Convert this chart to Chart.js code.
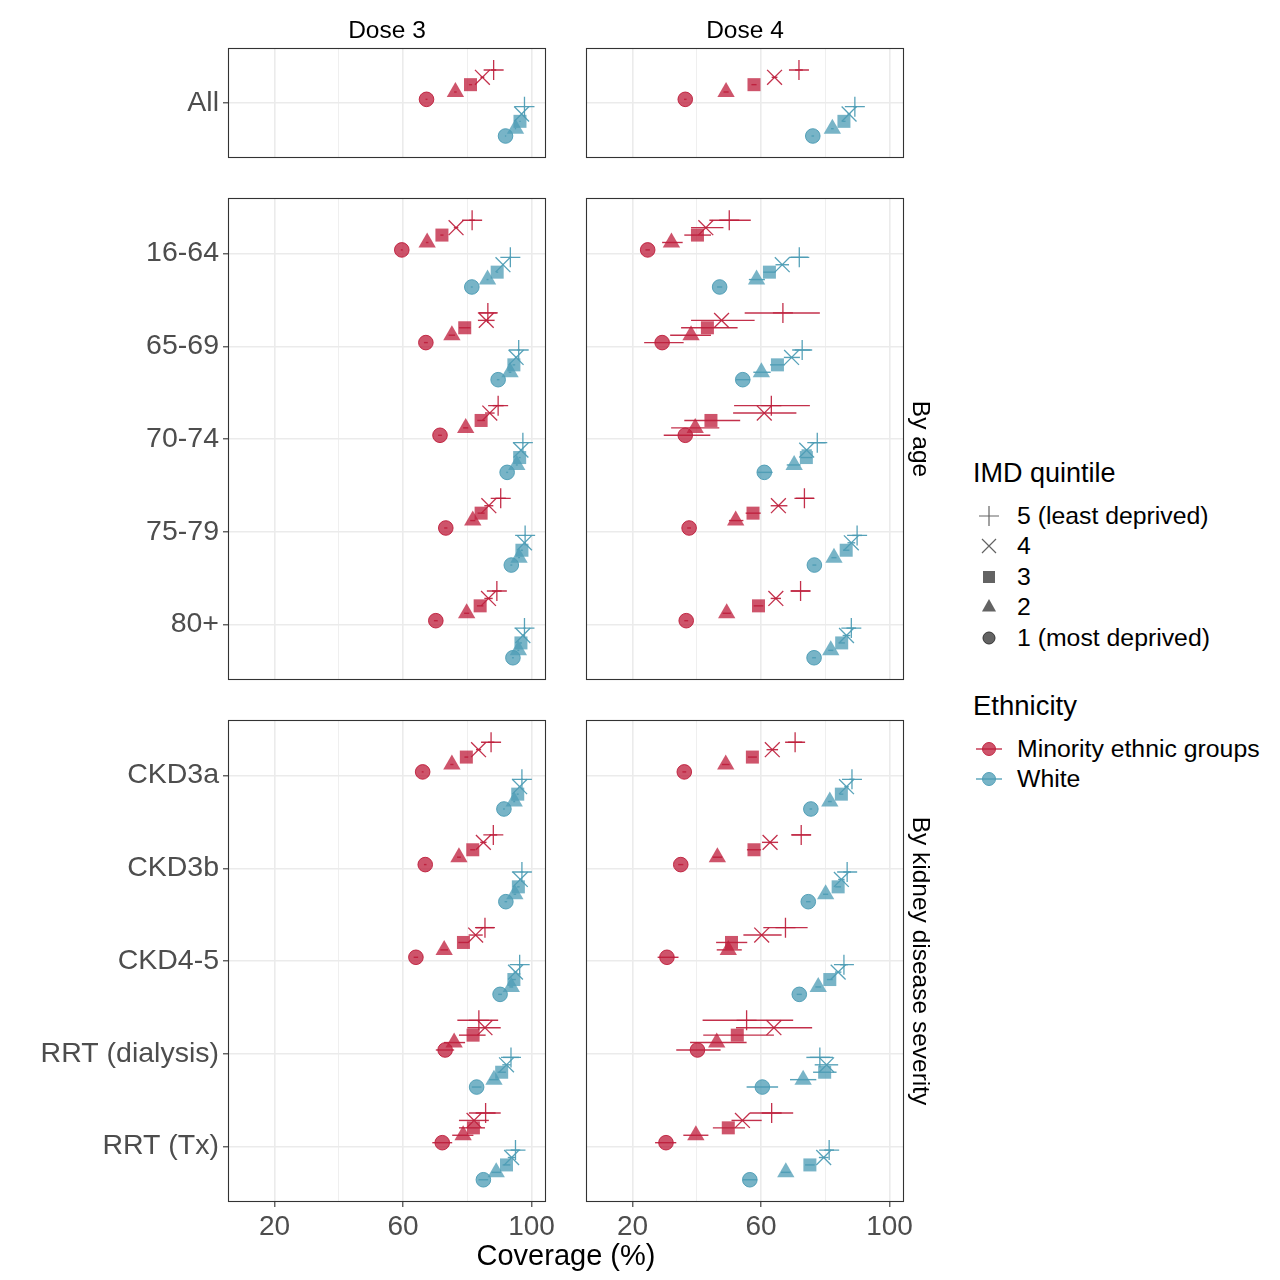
<!DOCTYPE html>
<html>
<head>
<meta charset="utf-8">
<script src="https://cdn.jsdelivr.net/npm/chart.js@4.4.1/dist/chart.umd.min.js"></script>
<style>
  body { margin: 0; background: #fff; font-family: "Liberation Sans", Arial, sans-serif; }
  #page { position: relative; width: 1280px; height: 1280px; overflow: hidden; }
  .box { position: absolute; }
  .txt { position: absolute; white-space: nowrap; line-height: 1; color: #000; }
</style>
</head>
<body>
<div id="page"></div>
<script>
var FONT = '"Liberation Sans", Arial, sans-serif';

// categories of each facet row (top to bottom)
var rowGroups = [
  ['All'],
  ['16-64', '65-69', '70-74', '75-79', '80+'],
  ['CKD3a', 'CKD3b', 'CKD4-5', 'RRT (dialysis)', 'RRT (Tx)']
];
var rowStrips = ['', 'By age', 'By kidney disease severity'];
var doses = ['Dose 3', 'Dose 4'];
var ethnicities = ['Minority ethnic groups', 'White'];
var quintiles = ['1 (most deprived)', '2', '3', '4', '5 (least deprived)'];
var xTicks = [20, 40, 60, 80, 100];
var xLabels = [20, 60, 100];

// coverage (%) per row: All,16-64,65-69,70-74,75-79,80+,CKD3a,CKD3b,CKD4-5,RRT (dialysis),RRT (Tx)
// each row = quintile 1..5
var d3MinVal = [[67.3,76.3,81.0,84.7,88.2],[59.6,67.5,72.1,76.5,81.5],[67.1,75.2,79.2,85.9,86.4],[71.5,79.5,84.3,87.0,89.6],[73.3,81.7,84.3,86.7,90.4],[70.2,79.8,84.0,86.6,89.2],[66.1,75.2,79.7,83.5,87.4],[66.9,77.4,81.7,85.0,88.1],[64.0,72.8,78.8,82.6,85.5],[73.1,75.9,81.8,85.5,83.6],[72.2,78.7,81.9,82.1,85.7]];
var d3MinLo  = [[67.0,75.9,80.5,84.1,87.4],[59.3,67.1,71.6,75.8,80.6],[66.5,74.2,77.4,83.3,83.6],[70.9,78.7,83.1,85.5,87.9],[72.8,80.9,83.2,85.3,88.8],[69.6,79.0,83.0,85.3,87.7],[65.8,74.7,79.1,82.7,86.4],[66.5,76.8,80.9,84.0,86.9],[63.3,71.6,77.2,80.4,82.7],[70.2,72.7,77.4,80.0,76.9],[69.1,75.3,77.4,77.4,80.5]];
var d3MinHi  = [[67.6,76.7,81.5,85.3,89.0],[59.9,67.9,72.6,77.2,82.4],[67.7,76.2,81.0,88.5,89.2],[72.1,80.3,85.5,88.5,91.3],[73.8,82.5,85.4,88.1,92.0],[70.8,80.6,85.0,87.9,90.7],[66.4,75.7,80.3,84.3,88.4],[67.3,78.0,82.5,86.0,89.3],[64.7,74.0,80.4,84.8,88.3],[75.9,79.3,85.7,90.4,89.6],[75.3,81.9,85.5,86.7,90.4]];

var d3WhiVal = [[91.9,95.0,96.4,96.9,97.8],[81.4,86.3,89.3,91.1,93.4],[89.6,93.3,94.5,95.2,96.0],[92.4,95.4,96.3,96.7,97.3],[93.7,96.1,97.0,97.8,98.0],[94.2,95.9,96.7,97.3,97.8],[91.4,94.6,95.7,96.3,97.0],[92.0,94.8,95.9,96.5,97.0],[90.2,93.7,94.5,95.0,96.3],[82.9,88.3,90.7,92.2,93.6],[85.0,89.0,92.2,93.8,95.0]];
var d3WhiLo  = [[91.7,94.8,96.2,96.7,97.6],[81.1,86.0,89.0,90.8,93.1],[89.2,92.9,94.1,94.8,95.6],[92.1,95.1,96.0,96.4,97.0],[93.4,95.8,96.7,97.5,97.7],[93.9,95.6,96.4,97.0,97.5],[91.1,94.3,95.4,96.0,96.7],[91.6,94.4,95.5,96.1,96.6],[89.6,93.1,93.9,94.4,95.6],[81.4,86.8,89.4,90.9,91.1],[83.5,87.5,91.0,92.6,93.5]];
var d3WhiHi  = [[92.1,95.2,96.6,97.1,98.0],[81.7,86.6,89.6,91.4,93.7],[90.0,93.7,94.9,95.6,96.4],[92.7,95.7,96.6,97.0,97.6],[94.0,96.4,97.3,98.1,98.3],[94.5,96.2,97.0,97.6,98.1],[91.7,94.9,96.0,96.6,97.3],[92.4,95.2,96.3,96.9,97.4],[90.8,94.3,95.1,95.6,97.0],[84.4,89.8,92.0,93.5,96.1],[86.5,90.5,93.4,95.0,96.5]];

var d4MinVal = [[36.4,49.1,57.8,64.2,71.8],[24.7,32.1,40.2,42.8,50.1],[29.2,38.2,43.3,47.7,66.8],[36.4,39.5,44.4,61.0,63.2],[37.6,52.1,57.5,65.4,73.5],[36.7,49.3,59.2,64.6,72.3],[36.1,49.0,57.3,63.5,70.6],[35.0,46.4,57.8,62.8,72.5],[30.7,49.8,50.8,60.2,67.6],[40.2,46.2,52.6,64.0,55.5],[30.4,39.7,49.8,54.2,63.3]];
var d4MinLo  = [[36.0,48.3,57.0,63.3,70.6],[24.0,29.2,36.1,38.2,43.9],[23.6,31.7,35.1,38.2,54.9],[29.7,32.0,36.1,51.3,51.6],[37.0,50.0,55.2,63.0,70.8],[36.1,48.0,57.7,63.0,69.3],[35.5,47.8,55.9,61.7,68.4],[34.2,44.9,55.6,60.3,69.5],[27.8,46.2,46.0,54.5,60.7],[33.6,37.9,42.0,52.2,41.8],[27.0,35.8,45.0,50.8,56.5]];
var d4MinHi  = [[36.8,49.9,58.6,65.1,73.0],[25.4,35.6,44.4,48.3,56.8],[35.9,44.4,52.7,58.0,78.3],[44.2,47.0,53.5,71.0,75.2],[38.2,54.5,59.9,68.2,76.5],[37.3,50.6,60.7,66.2,75.3],[36.7,50.2,58.7,65.3,72.8],[35.8,47.9,60.0,65.3,75.5],[34.3,54.0,55.7,66.4,74.5],[47.4,55.5,64.0,75.9,70.0],[33.6,43.6,55.0,60.2,70.0]];

var d4WhiVal = [[76.1,82.2,85.8,87.4,89.2],[47.1,58.6,62.6,66.6,71.9],[54.3,60.1,65.1,69.5,72.8],[61.0,70.3,74.1,74.2,77.5],[76.6,82.7,86.5,88.1,89.9],[76.5,81.7,85.1,86.6,88.1],[75.5,81.4,85.0,86.6,88.3],[74.7,80.1,84.0,85.0,86.8],[71.9,77.8,81.4,84.0,85.8],[60.4,73.1,79.8,80.4,78.3],[56.5,67.7,75.2,79.5,81.2]];
var d4WhiLo  = [[75.7,81.8,85.3,86.9,88.6],[46.3,56.2,60.7,64.5,69.2],[52.1,57.6,62.8,67.1,70.5],[58.9,68.0,72.3,72.6,75.4],[76.0,81.9,85.5,86.9,88.4],[75.9,80.9,84.1,85.4,86.6],[75.1,80.8,84.4,85.9,87.5],[74.0,79.3,83.1,84.0,85.6],[71.1,76.9,80.5,83.0,84.6],[55.5,69.0,76.2,76.7,74.1],[54.3,66.2,73.7,78.0,79.7]];
var d4WhiHi  = [[76.5,82.6,86.3,87.9,89.8],[47.9,61.2,64.5,68.7,74.6],[56.6,63.0,67.4,72.1,75.4],[63.6,72.3,76.0,75.8,80.1],[77.2,83.5,87.5,89.3,91.4],[77.1,82.5,86.1,87.8,89.6],[75.9,82.0,85.6,87.3,89.1],[75.4,80.9,84.9,86.0,88.0],[72.7,78.7,82.3,85.0,87.0],[65.3,77.2,83.5,84.0,82.4],[58.8,69.2,76.7,81.0,82.7]];

var series = [
  [{val: d3MinVal, lo: d3MinLo, hi: d3MinHi}, {val: d3WhiVal, lo: d3WhiLo, hi: d3WhiHi}],
  [{val: d4MinVal, lo: d4MinLo, hi: d4MinHi}, {val: d4WhiVal, lo: d4WhiLo, hi: d4WhiHi}]
];

// look
var lineCol = ['rgba(190,30,60,0.92)', 'rgba(78,157,181,0.95)'];
var fillCol = ['rgba(190,30,60,0.76)', 'rgba(78,157,181,0.76)'];
var shapes = ['circle', 'triangle', 'rect', 'crossRot', 'cross'];
var radii = [7.3, 10, 9.2, 10.5, 10];

var panelTop = [48, 198, 720];
var panelBottom = [158, 680, 1202];
var colLeft = [228, 586];
var colRight = [546, 904];

var page = document.getElementById('page');

function addText(str, cx, cy, size, opts) {
  opts = opts || {};
  var el = document.createElement('div');
  el.className = 'txt';
  el.textContent = str;
  el.style.fontSize = size + 'px';
  el.style.left = cx + 'px';
  el.style.top = cy + 'px';
  if (opts.color) el.style.color = opts.color;
  var tr = opts.left ? 'translate(0,-50%)' : 'translate(-50%,-50%)';
  if (opts.rot) tr += ' rotate(' + opts.rot + 'deg)';
  el.style.transform = tr;
  page.appendChild(el);
  return el;
}

// horizontal CI lines
var errorBars = {
  id: 'errorBars',
  afterDatasetsDraw: function(chart) {
    var ctx = chart.ctx, ca = chart.chartArea;
    var xs = chart.scales.x, ys = chart.scales.y;
    ctx.save();
    ctx.beginPath();
    ctx.rect(ca.left, ca.top, ca.right - ca.left, ca.bottom - ca.top);
    ctx.clip();
    chart.data.datasets.forEach(function(ds) {
      ctx.strokeStyle = ds.errColor;
      ctx.lineWidth = 1.4;
      ds.data.forEach(function(p) {
        var y = ys.getPixelForValue(p.y);
        ctx.beginPath();
        ctx.moveTo(xs.getPixelForValue(p.lo), y);
        ctx.lineTo(xs.getPixelForValue(p.hi), y);
        ctx.stroke();
      });
    });
    ctx.restore();
  }
};

var panelBox = {
  id: 'panelBox',
  afterDraw: function(chart) {
    var ctx = chart.ctx, ca = chart.chartArea;
    ctx.save();
    ctx.strokeStyle = '#333333';
    ctx.lineWidth = 1.1;
    ctx.strokeRect(ca.left + 0.5, ca.top + 0.5, ca.right - ca.left - 1, ca.bottom - ca.top - 1);
    ctx.restore();
  }
};

function dodge(e, q) {
  return e === 0 ? -(0.04 + 0.08 * q) : (0.04 + 0.08 * (4 - q));
}

function noPad(sc) {
  sc.paddingTop = 0; sc.paddingBottom = 0; sc.paddingLeft = 0; sc.paddingRight = 0;
}

function makePanel(g, d) {
  var cats = rowGroups[g];
  var r0 = g === 0 ? 0 : (g === 1 ? 1 : 6);
  var left = d === 0 ? 0 : 576;
  var yAxisW = colLeft[d] - left;
  var xAxisH = g === 2 ? 56 : 0;
  var W = colRight[d] - left + 10;
  var H = 10 + (panelBottom[g] - panelTop[g]) + xAxisH + 4;

  var box = document.createElement('div');
  box.className = 'box';
  box.style.left = left + 'px';
  box.style.top = (panelTop[g] - 10) + 'px';
  var cv = document.createElement('canvas');
  cv.width = W; cv.height = H;
  cv.style.width = W + 'px'; cv.style.height = H + 'px';
  box.appendChild(cv);
  page.appendChild(box);

  var datasets = [];
  for (var e = 0; e < 2; e++) {
    for (var q = 0; q < 5; q++) {
      var s = series[d][e];
      var pts = cats.map(function(c, i) {
        return { x: s.val[r0 + i][q], y: i + dodge(e, q), lo: s.lo[r0 + i][q], hi: s.hi[r0 + i][q] };
      });
      var isLine = q >= 3;
      datasets.push({
        label: ethnicities[e] + ' / ' + quintiles[q],
        data: pts,
        pointStyle: shapes[q],
        pointRadius: radii[q],
        backgroundColor: fillCol[e],
        borderColor: lineCol[e],
        borderWidth: isLine ? 1.3 : (q === 0 ? 1 : 0),
        errColor: lineCol[e],
        showLine: false
      });
    }
  }

  new Chart(cv, {
    type: 'scatter',
    data: { datasets: datasets },
    options: {
      responsive: false,
      animation: false,
      devicePixelRatio: 1,
      layout: { autoPadding: false, padding: { left: 0, right: 10, top: 10, bottom: 4 } },
      plugins: { legend: { display: false }, tooltip: { enabled: false } },
      scales: {
        x: {
          type: 'linear', min: 5.5, max: 104.5,
          afterBuildTicks: function(sc) { sc.ticks = xTicks.map(function(v) { return { value: v }; }); },
          afterFit: function(sc) { sc.height = xAxisH; noPad(sc); },
          ticks: {
            display: g === 2, autoSkip: false, maxRotation: 0, padding: 3,
            color: '#4D4D4D', font: { size: 28, family: FONT },
            callback: function(v) { return xLabels.indexOf(v) >= 0 ? String(v) : ''; }
          },
          grid: {
            color: '#EBEBEB',
            lineWidth: function(c) { return c.tick && xLabels.indexOf(c.tick.value) >= 0 ? 1.6 : 0.8; },
            drawTicks: g === 2, tickLength: 5, tickWidth: 1.1,
            tickColor: function(c) { return c.tick && xLabels.indexOf(c.tick.value) >= 0 ? '#333333' : 'rgba(0,0,0,0)'; }
          },
          border: { display: false }
        },
        y: {
          type: 'linear', reverse: true, min: -0.6, max: cats.length - 0.4,
          afterBuildTicks: function(sc) { sc.ticks = cats.map(function(c, i) { return { value: i }; }); },
          afterFit: function(sc) { sc.width = yAxisW; noPad(sc); },
          ticks: {
            display: d === 0, autoSkip: false, padding: 4,
            color: '#4D4D4D', font: { size: 28.5, family: FONT },
            callback: function(v) { return cats[v]; }
          },
          grid: { color: '#EBEBEB', lineWidth: 1.6, drawTicks: d === 0, tickLength: 5, tickWidth: 1.1, tickColor: '#333333' },
          border: { display: false }
        }
      }
    },
    plugins: [errorBars, panelBox]
  });
}

for (var g = 0; g < rowGroups.length; g++) {
  for (var d = 0; d < doses.length; d++) makePanel(g, d);
}

// strip labels and axis title
addText(doses[0], (colLeft[0] + colRight[0]) / 2, 30, 24.5);
addText(doses[1], (colLeft[1] + colRight[1]) / 2, 30, 24.5);
for (var gi = 1; gi < rowStrips.length; gi++) {
  addText(rowStrips[gi], 921, (panelTop[gi] + panelBottom[gi]) / 2, 24.5, { rot: 90 });
}
addText('Coverage (%)', (colLeft[0] + colRight[1]) / 2, 1255, 29);

// legends
function legendIcon(svgInner, cx, cy) {
  var el = document.createElement('div');
  el.className = 'box';
  el.style.left = (cx - 14) + 'px';
  el.style.top = (cy - 14) + 'px';
  el.innerHTML = '<svg width="28" height="28" viewBox="-14 -14 28 28">' + svgInner + '</svg>';
  page.appendChild(el);
}
var grey = 'rgba(60,60,60,0.8)';
var quintIcons = [
  '<circle r="6" fill="' + grey + '" stroke="#333" stroke-width="1"/>',
  '<polygon points="0,-8 7,4.5 -7,4.5" fill="' + grey + '"/>',
  '<rect x="-6" y="-6" width="12" height="12" fill="' + grey + '"/>',
  '<path d="M-7,-7 L7,7 M-7,7 L7,-7" stroke="' + grey + '" stroke-width="1.2"/>',
  '<path d="M-10,0 L10,0 M0,-10 L0,10" stroke="' + grey + '" stroke-width="1.2"/>'
];
addText('IMD quintile', 973, 473, 27, { left: true });
var legY = [638, 607, 577, 546, 516];
for (var qi = 4; qi >= 0; qi--) {
  legendIcon(quintIcons[qi], 989, legY[qi]);
  addText(quintiles[qi], 1017, legY[qi], 24.8, { left: true });
}
addText('Ethnicity', 973, 706, 27.5, { left: true });
var ethY = [749, 779];
for (var ei = 0; ei < 2; ei++) {
  legendIcon('<path d="M-13,0 L13,0" stroke="' + lineCol[ei] + '" stroke-width="1.4"/>' +
             '<circle r="6.5" fill="' + fillCol[ei] + '" stroke="' + lineCol[ei] + '" stroke-width="1"/>', 989, ethY[ei]);
  addText(ethnicities[ei], 1017, ethY[ei], 24.8, { left: true });
}
</script>
</body>
</html>
